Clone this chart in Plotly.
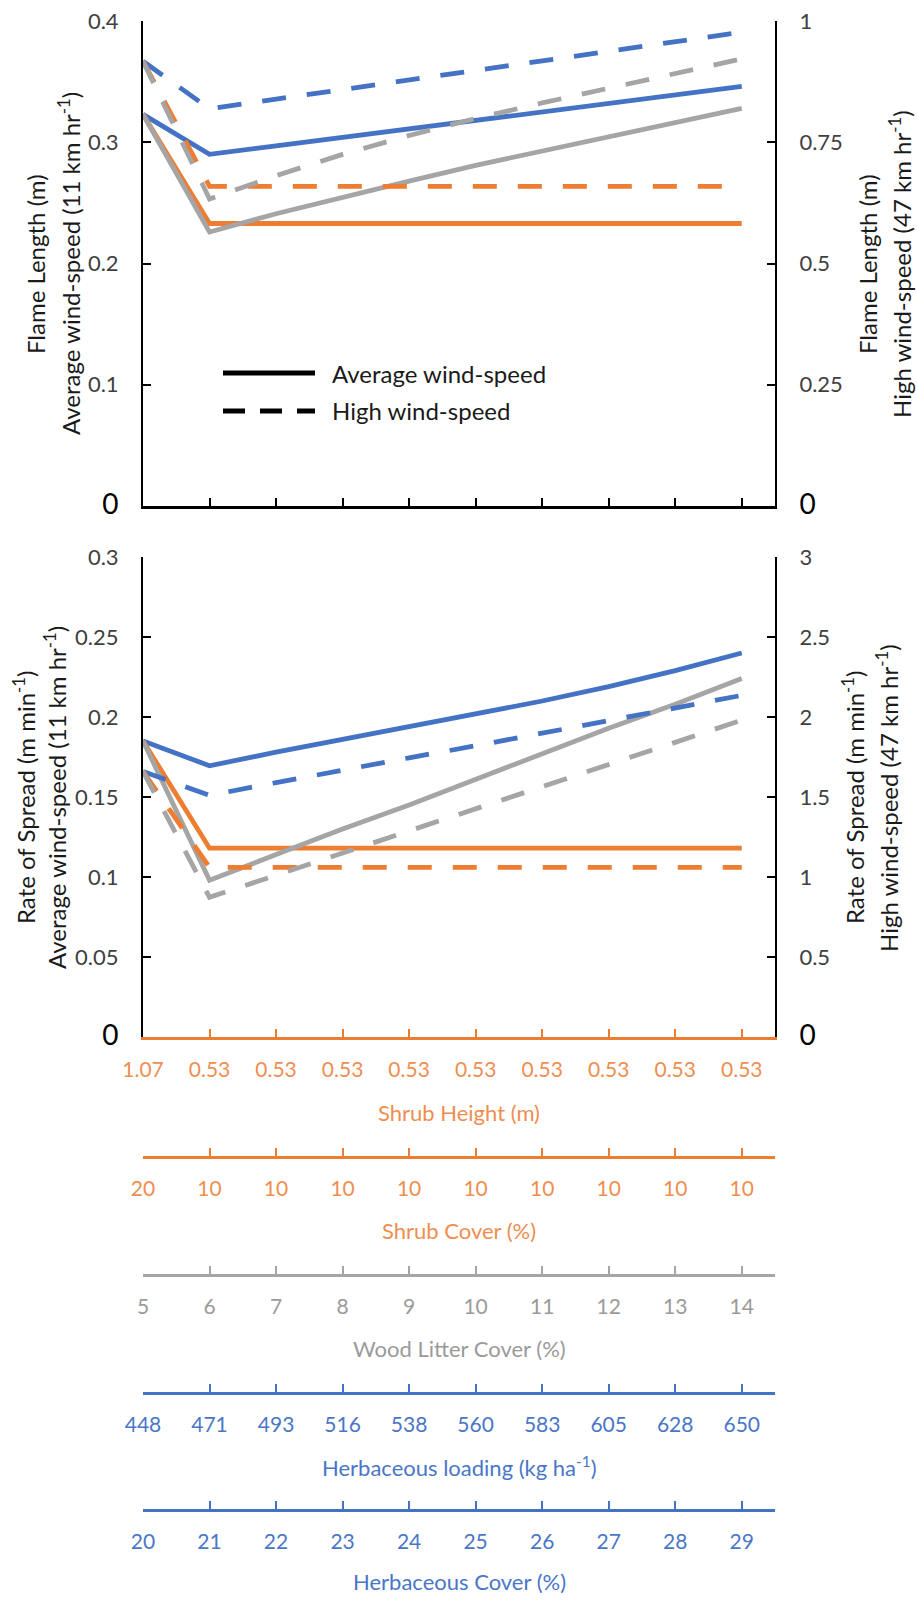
import plotly.graph_objects as go

# ---------------- data ----------------
scenario = list(range(10))

shrub_height = ["1.07", "0.53", "0.53", "0.53", "0.53", "0.53", "0.53", "0.53", "0.53", "0.53"]
shrub_cover = ["20", "10", "10", "10", "10", "10", "10", "10", "10", "10"]
wood_litter = ["5", "6", "7", "8", "9", "10", "11", "12", "13", "14"]
herb_loading = ["448", "471", "493", "516", "538", "560", "583", "605", "628", "650"]
herb_cover = ["20", "21", "22", "23", "24", "25", "26", "27", "28", "29"]

# Flame length (m)
fl_avg_blue = [0.323, 0.290, 0.297, 0.304, 0.311, 0.318, 0.325, 0.332, 0.339, 0.346]
fl_avg_orange = [0.323, 0.233, 0.233, 0.233, 0.233, 0.233, 0.233, 0.233, 0.233, 0.233]
fl_avg_gray = [0.323, 0.226, 0.241, 0.255, 0.268, 0.281, 0.293, 0.304, 0.316, 0.328]
fl_high_blue = [0.917, 0.819, 0.839, 0.859, 0.879, 0.898, 0.918, 0.938, 0.957, 0.977]
fl_high_orange = [0.917, 0.659, 0.659, 0.659, 0.659, 0.659, 0.659, 0.659, 0.659, 0.659]
fl_high_gray = [0.917, 0.633, 0.681, 0.725, 0.764, 0.799, 0.831, 0.862, 0.892, 0.922]

# Rate of spread (m/min)
ros_avg_blue = [0.185, 0.1695, 0.178, 0.186, 0.194, 0.202, 0.210, 0.219, 0.229, 0.240]
ros_avg_orange = [0.185, 0.118, 0.118, 0.118, 0.118, 0.118, 0.118, 0.118, 0.118, 0.118]
ros_avg_gray = [0.185, 0.098, 0.114, 0.130, 0.145, 0.161, 0.177, 0.193, 0.208, 0.224]
ros_high_blue = [1.66, 1.51, 1.59, 1.67, 1.745, 1.82, 1.90, 1.98, 2.055, 2.135]
ros_high_orange = [1.66, 1.06, 1.06, 1.06, 1.06, 1.06, 1.06, 1.06, 1.06, 1.06]
ros_high_gray = [1.66, 0.873, 1.011, 1.15, 1.288, 1.426, 1.565, 1.703, 1.84, 1.98]

fl_left_ticks = [0, 0.1, 0.2, 0.3, 0.4]
fl_right_ticks = [0, 0.25, 0.5, 0.75, 1]
ros_left_ticks = [0, 0.05, 0.1, 0.15, 0.2, 0.25, 0.3]
ros_right_ticks = [0, 0.5, 1, 1.5, 2, 2.5, 3]

# ---------------- style ----------------
W, H = 917, 1600
BLUE = "#4472C4"
ORANGE = "#ED7D31"
GRAY = "#A5A5A5"
ORANGE_TXT = "#EF8E4F"
GRAY_TXT = "#9A9A9A"
BLUE_TXT = "#4A76C8"
FONT = "Lato"
TICK_COL = "#404040"
TITLE_COL = "#1a1a1a"
DASH = "24px,21px"
LW = 4.8


def px_x(p):
    return p / W


def px_y(p):
    return 1 - p / H


xdom = [px_x(143), px_x(775)]
top_dom = [px_y(506), px_y(21)]
bot_dom = [px_y(1037), px_y(557)]
XR = [0, 9.5]


def zero_text(v):
    return "<span style='font-size:28px;color:#000'>0</span>" if v == 0 else ("%g" % v)


fig = go.Figure()

for ys, c in [(fl_avg_blue, BLUE), (fl_avg_orange, ORANGE), (fl_avg_gray, GRAY)]:
    fig.add_trace(go.Scatter(x=scenario, y=ys, mode="lines", line=dict(color=c, width=LW),
                             xaxis="x", yaxis="y", showlegend=False, hoverinfo="skip"))
for ys, c in [(fl_high_blue, BLUE), (fl_high_orange, ORANGE), (fl_high_gray, GRAY)]:
    fig.add_trace(go.Scatter(x=scenario, y=ys, mode="lines", line=dict(color=c, width=LW, dash=DASH),
                             xaxis="x", yaxis="y2", showlegend=False, hoverinfo="skip"))
for ys, c in [(ros_avg_blue, BLUE), (ros_avg_orange, ORANGE), (ros_avg_gray, GRAY)]:
    fig.add_trace(go.Scatter(x=scenario, y=ys, mode="lines", line=dict(color=c, width=LW),
                             xaxis="x2", yaxis="y3", showlegend=False, hoverinfo="skip"))
for ys, c in [(ros_high_blue, BLUE), (ros_high_orange, ORANGE), (ros_high_gray, GRAY)]:
    fig.add_trace(go.Scatter(x=scenario, y=ys, mode="lines", line=dict(color=c, width=LW, dash=DASH),
                             xaxis="x2", yaxis="y4", showlegend=False, hoverinfo="skip"))
for ax in ["x3", "x4", "x5", "x6"]:
    fig.add_trace(go.Scatter(x=scenario, y=ros_avg_orange, mode="markers", marker=dict(opacity=0, size=1),
                             xaxis=ax, yaxis="y3", showlegend=False, hoverinfo="skip"))

common_y = dict(showgrid=False, zeroline=False, showline=True, linecolor="black", linewidth=2,
                ticks="inside", ticklen=8, tickwidth=2, tickcolor="black", automargin=False,
                tickfont=dict(family=FONT, size=22, color=TICK_COL), ticklabelstandoff=18)


def xcat(color, txtcolor, texts, show_labels=True, **kw):
    d = dict(domain=xdom, range=XR, showgrid=False, zeroline=False, showline=True, automargin=False,
             linecolor=color, linewidth=2.5, ticks="inside", ticklen=8, tickwidth=2, tickcolor=color,
             tickvals=scenario, ticktext=texts, showticklabels=show_labels,
             tickfont=dict(family=FONT, size=21, color=txtcolor), ticklabelstandoff=12, fixedrange=True)
    d.update(kw)
    return d


layout = dict(
    width=W, height=H, margin=dict(l=0, r=0, t=0, b=0, autoexpand=False),
    paper_bgcolor="white", plot_bgcolor="white", showlegend=False,
    font=dict(family=FONT, size=22, color=TITLE_COL),
    xaxis=xcat("black", "black", shrub_height, show_labels=False, anchor="y"),
    yaxis=dict(common_y, domain=top_dom, anchor="x", range=[0, 0.4], tickvals=fl_left_ticks,
               ticktext=[zero_text(v) for v in fl_left_ticks]),
    yaxis2=dict(common_y, overlaying="y", side="right", anchor="x", range=[0, 1], tickvals=fl_right_ticks,
                ticktext=[zero_text(v) for v in fl_right_ticks]),
    xaxis2=xcat(ORANGE, ORANGE_TXT, shrub_height, anchor="y3"),
    yaxis3=dict(common_y, domain=bot_dom, anchor="x2", range=[0, 0.3], tickvals=ros_left_ticks,
                ticktext=[zero_text(v) for v in ros_left_ticks]),
    yaxis4=dict(common_y, overlaying="y3", side="right", anchor="x2", range=[0, 3], tickvals=ros_right_ticks,
                ticktext=[zero_text(v) for v in ros_right_ticks]),
    xaxis3=xcat(ORANGE, ORANGE_TXT, shrub_cover, overlaying="x2", anchor="free", position=px_y(1157)),
    xaxis4=xcat(GRAY, GRAY_TXT, wood_litter, overlaying="x2", anchor="free", position=px_y(1275)),
    xaxis5=xcat(BLUE, BLUE_TXT, herb_loading, overlaying="x2", anchor="free", position=px_y(1393)),
    xaxis6=xcat(BLUE, BLUE_TXT, herb_cover, overlaying="x2", anchor="free", position=px_y(1510)),
)
fig.update_layout(**layout)

ann = []
TS = 24


def vtitle(text, x, y):
    ann.append(dict(text=text, x=px_x(x), y=px_y(y), xref="paper", yref="paper", showarrow=False,
                    textangle=-90, xanchor="center", yanchor="middle", borderpad=0,
                    font=dict(family=FONT, size=TS, color=TITLE_COL)))


vtitle("Flame Length (m)", 35, 264)
vtitle("Average wind-speed (11 km hr<sup>-1</sup>)", 69, 264)
vtitle("Flame Length (m)", 867, 264)
vtitle("High wind-speed (47 km hr<sup>-1</sup>)", 900, 264)
vtitle("Rate of Spread (m min<sup>-1</sup>)", 24, 798)
vtitle("Average wind-speed (11 km hr<sup>-1</sup>)", 55, 798)
vtitle("Rate of Spread (m min<sup>-1</sup>)", 853, 798)
vtitle("High wind-speed (47 km hr<sup>-1</sup>)", 887, 798)

for txt, col, yp in [("Shrub Height (m)", ORANGE_TXT, 1112), ("Shrub Cover (%)", ORANGE_TXT, 1230),
                     ("Wood Litter Cover (%)", GRAY_TXT, 1348),
                     ("Herbaceous loading (kg ha<sup>-1</sup>)", BLUE_TXT, 1466),
                     ("Herbaceous Cover (%)", BLUE_TXT, 1581)]:
    ann.append(dict(text=txt, x=px_x(459), y=px_y(yp), xref="paper", yref="paper", showarrow=False,
                    xanchor="center", yanchor="middle", borderpad=0,
                    font=dict(family=FONT, size=22, color=col)))

for txt, yp in [("Average wind-speed", 373), ("High wind-speed", 411)]:
    ann.append(dict(text=txt, x=px_x(330), y=px_y(yp), xref="paper", yref="paper", showarrow=False,
                    xanchor="left", yanchor="middle", font=dict(family=FONT, size=24, color=TITLE_COL)))
shapes = [
    dict(type="line", xref="paper", yref="paper", x0=px_x(223), x1=px_x(315), y0=px_y(373), y1=px_y(373),
         line=dict(color="black", width=5)),
    dict(type="line", xref="paper", yref="paper", x0=px_x(223), x1=px_x(315), y0=px_y(411), y1=px_y(411),
         line=dict(color="black", width=5, dash="22px,15px")),
]
fig.update_layout(annotations=ann, shapes=shapes)

fig.write_html("out.html", config={"displayModeBar": False, "staticPlot": True},
               post_script="document.body.style.margin='0';document.body.style.overflow='hidden';")
